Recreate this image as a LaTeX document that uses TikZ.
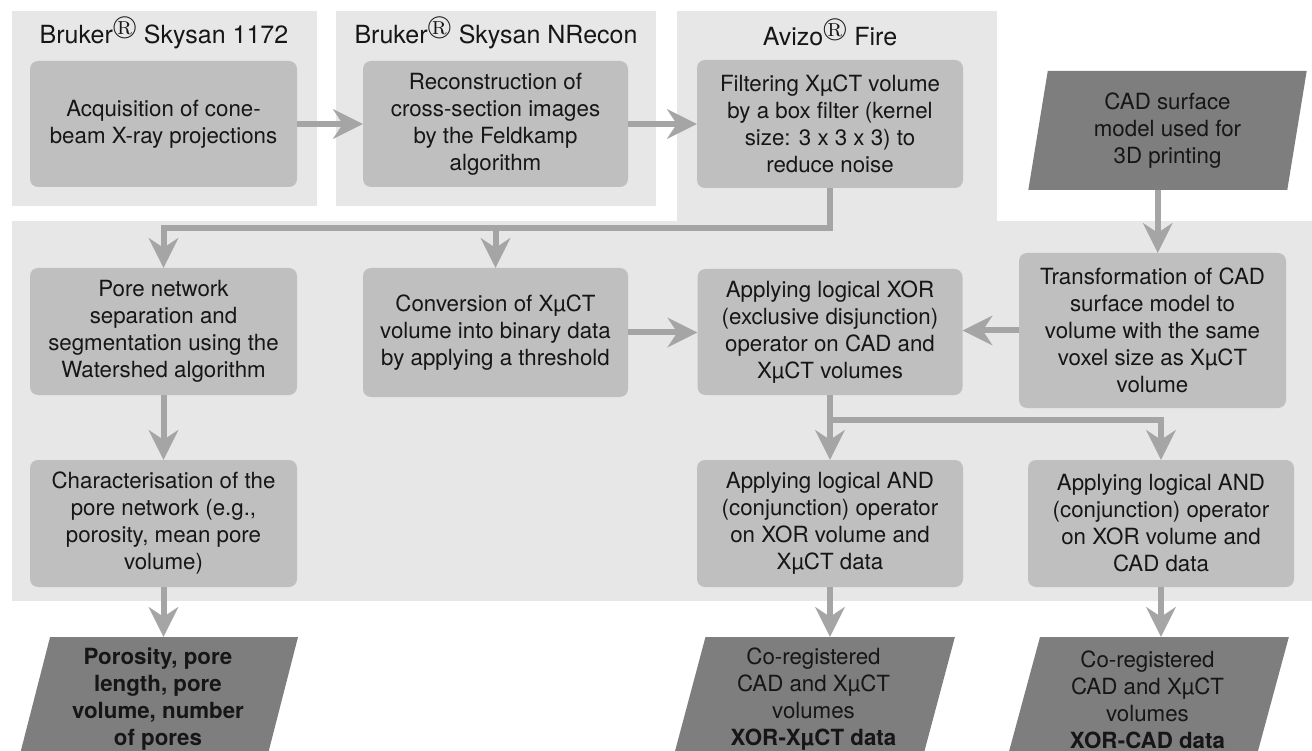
\documentclass[tikz,border=0pt]{standalone}
\usepackage{amssymb}
\usepackage{fontspec}
\setmainfont{TeX Gyre Heros}
\usetikzlibrary{shapes.geometric,arrows.meta}
\definecolor{panelgray}{RGB}{231,231,231}
\definecolor{boxgray}{RGB}{191,191,191}
\definecolor{arrowgray}{RGB}{165,165,165}
\definecolor{datagray}{RGB}{126,126,126}
\definecolor{inkgray}{RGB}{22,22,22}
\begin{document}
\begin{tikzpicture}[x=1pt,y=-1pt,
  title/.style={text=inkgray,font=\fontsize{25}{30}\selectfont},
  box/.style={fill=boxgray,rounded corners=8pt,inner sep=0pt,align=center,
    text=inkgray,font=\fontsize{22.3}{27}\selectfont},
  data/.style={trapezium,trapezium stretches=true,fill=datagray,inner sep=0pt,
    align=center,text=inkgray,font=\fontsize{22.3}{27}\selectfont},
  arr/.style={draw=arrowgray,line width=6pt,
    -{Stealth[length=30pt,width=30pt,inset=10pt,line width=0pt]}}]
\useasboundingbox (0,0) rectangle (1312,751);
\clip (0,0) rectangle (1312,751);

% software panels
\fill[panelgray] (12,11)  rectangle (317,206);
\fill[panelgray] (336,11) rectangle (656,206);
\fill[panelgray] (677,11) rectangle (997,222);
\fill[panelgray] (12,221) rectangle (1312,601);

\node[title] (skyT)  at (164,33) {Bruker$^{\circledR}$ Skysan 1172};
\node[title] (nrecT) at (496,33) {Bruker$^{\circledR}$ Skysan NRecon};
\node[title] (aviT)  at (830,33) {Avizo$^{\circledR}$ Fire};

% first row
\node[box,minimum width=267pt,minimum height=126pt] (acq)   at (163.5,124) {Acquisition of cone-\\beam X-ray projections};
\node[box,minimum width=265pt,minimum height=126pt] (recon) at (495.5,124) {Reconstruction of\\cross-section images\\by the Feldkamp\\algorithm};
\node[box,minimum width=266pt,minimum height=128pt] (filt)  at (830,124)   {Filtering X\textmu CT volume\\by a box filter (kernel\\size: 3 x 3 x 3) to\\reduce noise};
\node[data,trapezium left angle=81,trapezium right angle=99,
      minimum width=279pt,minimum height=119pt] (cad) at (1167.5,130.5) {CAD surface\\model used for\\3D printing};

% second row
\node[box,minimum width=267pt,minimum height=127pt] (pore)  at (163.5,331.5) {Pore network\\separation and\\segmentation using the\\Watershed algorithm};
\node[box,minimum width=265pt,minimum height=129pt] (conv)  at (495.5,332.5) {Conversion of X\textmu CT\\volume into binary data\\by applying a threshold};
\node[box,minimum width=265pt,minimum height=126pt] (xor)   at (830,332)     {Applying logical XOR\\(exclusive disjunction)\\operator on CAD and\\X\textmu CT volumes};
\node[box,minimum width=267pt,minimum height=155pt] (trans) at (1152.5,330.5) {Transformation of CAD\\surface model to\\volume with the same\\voxel size as X\textmu CT\\volume};

% third row
\node[box,minimum width=267pt,minimum height=127pt] (charac) at (163.5,523.5) {Characterisation of the\\pore network (e.g.,\\porosity, mean pore\\volume)};
\node[box,minimum width=266pt,minimum height=127pt] (andx)   at (830,523.5)   {Applying logical AND\\(conjunction) operator\\on XOR volume and\\X\textmu CT data};
\node[box,minimum width=266pt,minimum height=127pt] (andc)   at (1161,523.5)  {Applying logical AND\\(conjunction) operator\\on XOR volume and\\CAD data};

% results
\node[data,trapezium left angle=76,trapezium right angle=104,
      minimum width=281pt,minimum height=125pt,font=\bfseries\fontsize{22.3}{27}\selectfont] (poro) at (158,699.5) {Porosity, pore\\length, pore\\volume, number\\of pores};
\node[data,trapezium left angle=76,trapezium right angle=104,
      minimum width=283pt,minimum height=125pt] (outx) at (813.5,699.5) {Co-registered\\CAD and X\textmu CT\\volumes\\\textbf{XOR-X\textmu CT data}};
\node[data,trapezium left angle=76,trapezium right angle=104,
      minimum width=283pt,minimum height=125pt] (outc) at (1147.5,699.5) {Co-registered\\CAD and X\textmu CT\\volumes\\\textbf{XOR-CAD data}};

% connectors
\coordinate (splitF) at (830,228);
\coordinate (splitX) at (830,420);
\draw[arr] (acq.east) -- (recon.west);
\draw[arr] (recon.east) -- (filt.west);
\draw[arr] (filt.south) -- (splitF) -| (pore.north);
\draw[arr] (conv.north |- splitF) -- (conv.north);
\draw[arr] (cad.bottom side) -- (cad.bottom side |- trans.north);
\draw[arr] (conv.east) -- (conv.east -| xor.west);
\draw[arr] (trans.west) -- (trans.west -| xor.east);
\draw[arr] (pore.south) -- (charac.north);
\draw[arr] (xor.south) -- (andx.north);
\draw[arr] (splitX) -| (andc.north);
\draw[arr] (charac.south) -- (charac.south |- poro.north);
\draw[arr] (andx.south) -- (andx.south |- outx.north);
\draw[arr] (andc.south) -- (andc.south |- outc.north);
\end{tikzpicture}
\end{document}
